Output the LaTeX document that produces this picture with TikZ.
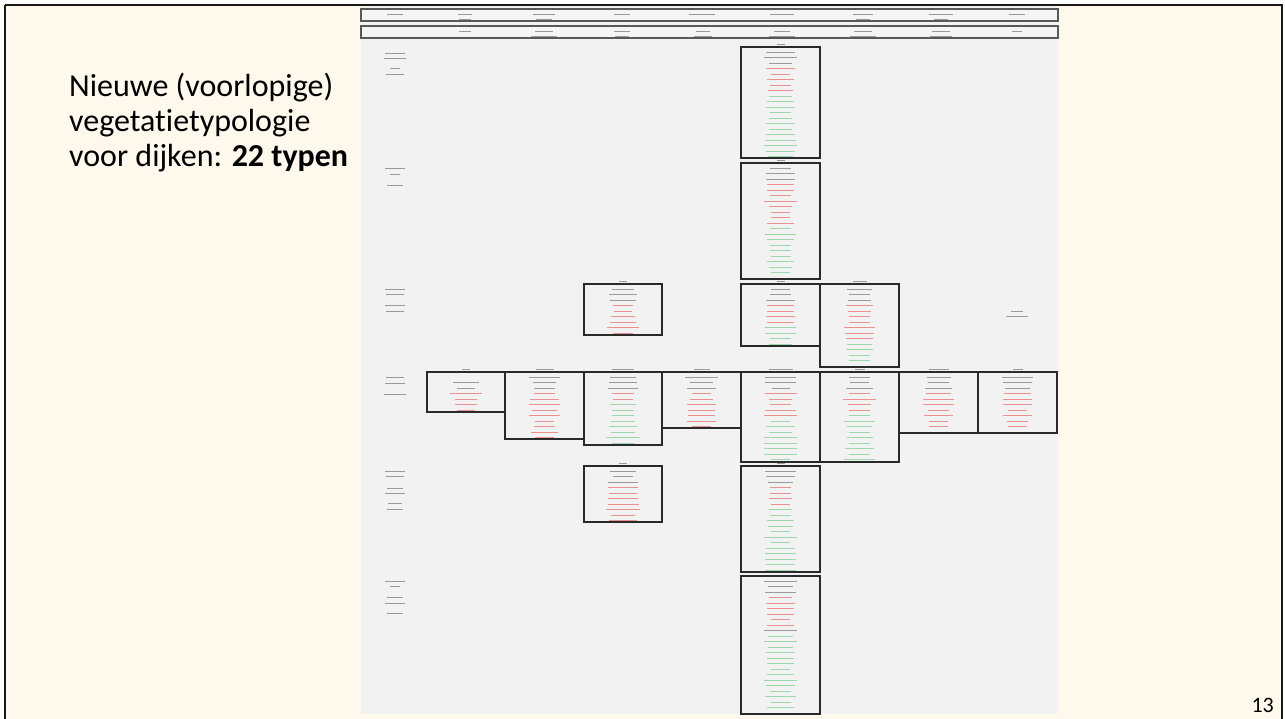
\documentclass[tikz,border=0pt]{standalone}
\usepackage{fontspec}
\setmainfont{Carlito}[Ligatures=NoCommon]
\definecolor{cream}{HTML}{FFF8EC}
\definecolor{imgbg}{HTML}{F2F2F2}
\definecolor{txk}{HTML}{9A9A9A}
\definecolor{txr}{HTML}{EC9090}
\definecolor{txg}{HTML}{9CD8AC}
\definecolor{frame}{HTML}{2A2A2A}
\tikzset{
  tk/.style={draw=txk,line width=0.9pt},
  tr/.style={draw=txr,line width=0.9pt},
  tg/.style={draw=txg,line width=0.9pt},
  tn/.style={draw=none},
  cellframe/.style={draw=frame,line width=1.4pt},
  hdrframe/.style={draw=black!65,line width=1.6pt,fill=black!4},
}
\newcommand\celbox[6]{%
  \pgfmathsetmacro\cx{(#1+#3)/2}%
  \ifdim #5pt>0pt \draw[tk] (\cx-#5/2,#2-2.5) -- (\cx+#5/2,#2-2.5);\fi
  \foreach \c [count=\i from 0] in {#6} {%
    \pgfmathsetmacro\yy{#2+5+5.5*\i}%
    \pgfmathsetmacro\ww{18+16*rnd}%
    \draw[\c] (\cx-\ww/2,\yy) -- (\cx+\ww/2,\yy);
  }%
  \draw[cellframe] (#1,#2) rectangle (#3,#4);
}
\newcommand\lbl[3]{\draw[tk] (#1-#3/2,#2) -- (#1+#3/2,#2);}
\begin{document}
\begin{tikzpicture}[x=1pt,y=-1pt]
\useasboundingbox (0,0) rectangle (1285,719);
\fill[white] (0,0) rectangle (1285,719);
\fill[cream] (5,5) rectangle (1282,719);
\fill[imgbg] (361,6) rectangle (1058,714);
\pgfmathsetseed{11}
% header boxes
\draw[hdrframe] (361,9) rectangle (1058,21);
\draw[hdrframe] (361,26) rectangle (1058,38);
\lbl{395}{14}{16}
\lbl{465}{14}{14}\lbl{465}{19}{12}
\lbl{544}{14}{22}\lbl{544}{19}{16}
\lbl{622}{14}{16}
\lbl{702}{14}{26}
\lbl{782}{14}{24}
\lbl{863}{14}{20}\lbl{863}{19}{14}
\lbl{941}{14}{24}\lbl{941}{19}{14}
\lbl{1017}{14}{16}
\lbl{465}{31}{12}
\lbl{544}{31}{18}\lbl{544}{36}{26}
\lbl{622}{31}{16}\lbl{622}{36}{14}
\lbl{703}{31}{14}\lbl{703}{36}{18}
\lbl{782}{31}{16}\lbl{782}{36}{26}
\lbl{863}{31}{18}\lbl{863}{36}{26}
\lbl{941}{31}{18}\lbl{941}{36}{22}
\lbl{1017}{31}{10}
% left row labels
\lbl{395}{53}{20}\lbl{395}{58}{22}\lbl{395}{68}{10}\lbl{395}{74}{18}
\lbl{395}{168}{20}\lbl{395}{174}{10}\lbl{395}{185}{16}
\lbl{395}{289}{20}\lbl{395}{294}{18}\lbl{395}{305}{20}\lbl{395}{311}{18}
\lbl{395}{377}{18}\lbl{395}{383}{20}\lbl{395}{394}{22}
\lbl{395}{471}{20}\lbl{395}{476}{18}\lbl{395}{488}{16}\lbl{395}{493}{20}\lbl{395}{503}{14}\lbl{395}{509}{16}
\lbl{395}{581}{20}\lbl{395}{586}{10}\lbl{395}{597}{16}\lbl{395}{603}{20}\lbl{395}{613}{16}
\lbl{1017}{311}{12}\lbl{1017}{316}{22}
% boxes
\celbox{741}{47}{820}{158}{8}{tk,tk,tk,tr,tr,tr,tr,tr,tg,tg,tg,tg,tg,tg,tg,tg,tg,tg,tg,tg}
\celbox{741}{163}{820}{279}{8}{tk,tk,tk,tr,tr,tr,tr,tr,tr,tr,tr,tg,tg,tg,tg,tg,tg,tg,tg,tg,tg}
\celbox{584}{284}{662}{335}{8}{tk,tk,tk,tr,tr,tr,tr,tr,tr}
\celbox{741}{284}{820}{346}{8}{tk,tk,tk,tr,tr,tr,tr,tg,tg,tg,tg}
\celbox{820}{284}{899}{367}{14}{tk,tk,tk,tr,tr,tr,tr,tr,tr,tr,tg,tg,tg,tg,tg}
\celbox{427}{372}{505}{412}{8}{tn,tk,tk,tr,tr,tr,tr}
\celbox{505}{372}{584}{439}{18}{tk,tk,tk,tr,tr,tr,tr,tr,tr,tr,tr,tr}
\celbox{584}{372}{662}{445}{22}{tk,tk,tk,tr,tr,tg,tg,tg,tg,tg,tg,tg,tg}
\celbox{662}{372}{741}{428}{16}{tk,tk,tk,tr,tr,tr,tr,tr,tr,tr}
\celbox{741}{372}{820}{462}{24}{tk,tk,tk,tr,tr,tr,tr,tr,tg,tg,tg,tg,tg,tg,tg,tg}
\celbox{820}{372}{899}{462}{10}{tk,tk,tk,tr,tr,tr,tr,tg,tg,tg,tg,tg,tg,tg,tg,tg}
\celbox{899}{372}{978}{433}{20}{tk,tk,tk,tr,tr,tr,tr,tr,tr,tr,tr}
\celbox{978}{372}{1057}{433}{10}{tk,tk,tk,tr,tr,tr,tr,tr,tr,tr,tr}
\celbox{584}{466}{662}{522}{8}{tk,tk,tk,tr,tr,tr,tr,tr,tr,tr}
\celbox{741}{466}{820}{572}{8}{tk,tk,tk,tr,tr,tr,tr,tg,tg,tg,tg,tg,tg,tg,tg,tg,tg,tg,tg}
\celbox{741}{576}{820}{714}{0}{tk,tk,tk,tr,tr,tr,tr,tr,tr,tk,tg,tg,tg,tg,tg,tg,tg,tg,tg,tg,tg,tg,tg,tg,tg}
% slide frame
\draw[black!90,line width=1.8pt] (5,5) -- (5,725) (5,5) -- (1282,5) -- (1282,725);
% title text
\node[anchor=base west,inner sep=0,font=\fontsize{32}{35}\selectfont] (t1) at (69,97) {Nieuwe (voorlopige)};
\node[anchor=base west,inner sep=0,font=\fontsize{32}{35}\selectfont] (t2) at (69,132) {vegetatietypologie};
\node[anchor=base west,inner sep=0,font=\fontsize{32}{35}\selectfont] (t3) at (69,167) {voor dijken: \textbf{22 typen}};
\node[anchor=base east,inner sep=0,font=\fontsize{22}{26}\selectfont] (pg) at (1274,712) {13};
\end{tikzpicture}
\end{document}
